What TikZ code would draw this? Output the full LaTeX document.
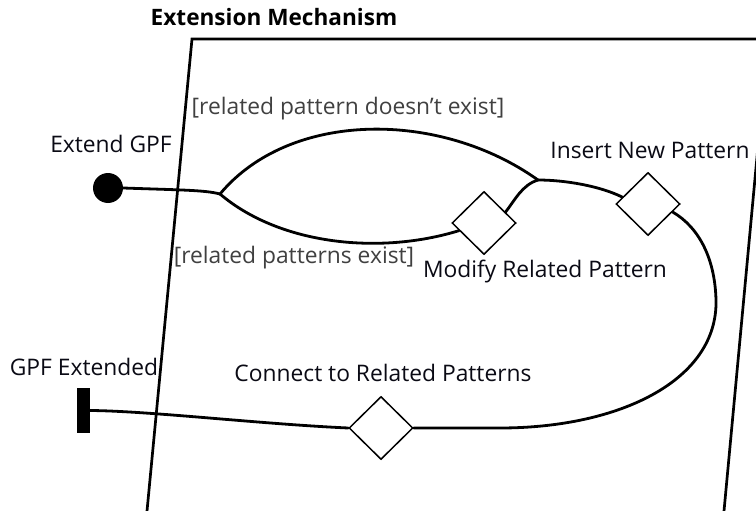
\documentclass[tikz,border=0pt]{standalone}
\usepackage{fontspec}
\setmainfont{Open Sans}
\usetikzlibrary{shapes.geometric}
\definecolor{guardgray}{RGB}{64,64,64}
\definecolor{txt}{RGB}{10,10,20}
\begin{document}
\begin{tikzpicture}[x=1pt,y=-1pt,
  lbl/.style={font=\fontsize{22.8}{26}\selectfont, inner sep=0pt, anchor=base, text=txt},
  guard/.style={lbl, text=guardgray},
  act/.style={diamond, draw, fill=white, line width=1.5pt, minimum width=64pt, minimum height=63pt, inner sep=0pt},
  flow/.style={line width=2.8pt, line cap=round, line join=round},
  frame/.style={line width=2.7pt}]
\useasboundingbox (0,0) rectangle (756,511);
\begin{scope}
\clip (0,0) rectangle (756,511);
\draw[frame] (147,511) -- (192,39) -- (768,39) -- (724,511);
\end{scope}
\node[font=\bfseries\fontsize{22.6}{26}\selectfont, inner sep=0pt, anchor=base] (title) at (274,26) {Extension Mechanism};

\node[circle, fill, minimum size=30pt, inner sep=0pt] (start) at (108,188) {};
\node[fill, minimum width=13pt, minimum height=45pt, inner sep=0pt] (end) at (83.5,410.5) {};
\node[act] (mod) at (484,223) {};
\node[act] (ins) at (648,204) {};
\node[act] (con) at (381,428) {};
\coordinate (fork) at (220,194);
\coordinate (join) at (538,180);

\draw[flow] (start.east) .. controls (180,190) and (205,190) .. (fork);
\draw[flow] (fork) .. controls (290,110) and (440,110) .. (join);
\draw[flow] (fork) .. controls (280,245) and (380,255) .. (mod.197);
\draw[flow] (mod.27) .. controls (515,200) and (522,185) .. (join);
\draw[flow] (join) .. controls (565,180) and (600,186) .. (ins.165);
\draw[flow] (ins.342) .. controls (700,228) and (715,260) .. (716,300) .. controls (718,380) and (620,428) .. (500,428) -- (con.east);
\draw[flow] (con.west) .. controls (260,424) and (150,411) .. (end.east);

\node[lbl] (lstart) at (111,153) {Extend GPF};
\node[lbl] (lend) at (84,375) {GPF Extended};
\node[lbl] (lins) at (650,158) {Insert New Pattern};
\node[lbl] (lmod) at (545,277) {Modify Related Pattern};
\node[lbl] (lcon) at (383,381) {Connect to Related Patterns};
\node[guard] (g1) at (348,115) {[related pattern doesn't exist]};
\node[guard] (g2) at (294,263) {[related patterns exist]};
\end{tikzpicture}
\end{document}
